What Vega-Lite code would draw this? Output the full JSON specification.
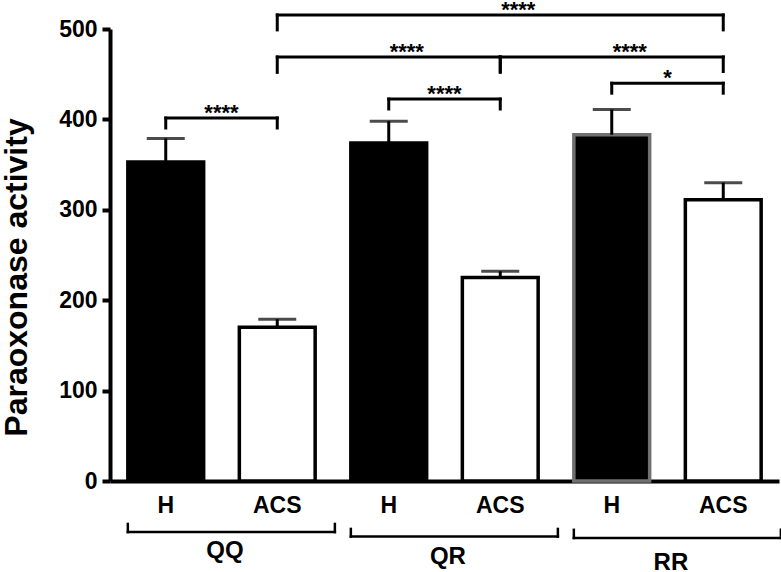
{
  "$schema": "https://vega.github.io/schema/vega-lite/v6.json",
  "width": 669,
  "height": 452,
  "autosize": "none",
  "padding": {"left": 110, "top": 29, "right": 2, "bottom": 91},
  "background": "white",
  "config": {
    "view": {"stroke": null},
    "font": "Liberation Sans",
    "text": {"font": "Liberation Sans", "fontWeight": "bold", "color": "black"}
  },
  "resolve": {"axis": {"x": "independent", "y": "independent"}},
  "datasets": {
    "bars": [
      {"group": "QQ", "type": "H", "bar": "QQ H", "value": 353, "upper": 379},
      {"group": "QQ", "type": "ACS", "bar": "QQ ACS", "value": 170, "upper": 179},
      {"group": "QR", "type": "H", "bar": "QR H", "value": 374, "upper": 398},
      {"group": "QR", "type": "ACS", "bar": "QR ACS", "value": 225, "upper": 232},
      {"group": "RR", "type": "H", "bar": "RR H", "value": 383, "upper": 411},
      {"group": "RR", "type": "ACS", "bar": "RR ACS", "value": 311, "upper": 330}
    ],
    "sig": [
      {"from": "QQ H", "to": "QQ ACS", "mid": "QQ ACS", "span": 1, "y": 401.5, "y0": 390.5, "label": "****"},
      {"from": "QR H", "to": "QR ACS", "mid": "QR ACS", "span": 1, "y": 422.5, "y0": 411.5, "label": "****"},
      {"from": "RR H", "to": "RR ACS", "mid": "RR ACS", "span": 1, "y": 440, "y0": 429, "label": "*"},
      {"from": "QQ ACS", "to": "QR ACS", "mid": "QR H", "span": 2, "y": 469, "y0": 452, "label": "****"},
      {"from": "QR ACS", "to": "RR ACS", "mid": "RR H", "span": 2, "y": 469, "y0": 453, "label": "****"},
      {"from": "QQ ACS", "to": "RR ACS", "mid": "QR ACS", "span": 4, "y": 515.5, "y0": 499, "label": "****"}
    ],
    "groups": [
      {"group": "QQ", "first": "QQ H", "last": "QQ ACS", "y": -56.5, "y0": -47.5, "ly": -85},
      {"group": "QR", "first": "QR H", "last": "QR ACS", "y": -61.5, "y0": -53, "ly": -92},
      {"group": "RR", "first": "RR H", "last": "RR ACS", "y": -63, "y0": -54, "ly": -98}
    ]
  },
  "layer": [
    {
      "data": {"name": "bars"},
      "mark": {"type": "bar", "strokeWidth": 3.5},
      "encoding": {
        "x": {
          "field": "bar", "type": "nominal",
          "scale": {"domain": ["QQ H", "QQ ACS", "QR H", "QR ACS", "RR H", "RR ACS"], "paddingInner": 0.32, "paddingOuter": 0.16},
          "axis": {
            "title": null, "labelAngle": 0, "ticks": false, "tickSize": 0,
            "domainColor": "black", "domainWidth": 4,
            "labelFont": "Liberation Sans", "labelFontWeight": "bold", "labelFontSize": 23, "labelColor": "black",
            "labelPadding": 13, "labelExpr": "split(datum.label, ' ')[1]"
          }
        },
        "y": {
          "field": "value", "type": "quantitative",
          "scale": {"domain": [0, 500], "nice": false},
          "axis": {
            "values": [0, 100, 200, 300, 400, 500], "grid": false,
            "domainColor": "black", "domainWidth": 4,
            "tickColor": "black", "tickWidth": 4, "tickSize": 8,
            "labelFont": "Liberation Sans", "labelFontWeight": "bold", "labelFontSize": 23, "labelColor": "black",
            "labelPadding": 5,
            "title": "Paraoxonase activity",
            "titleFont": "Liberation Sans", "titleFontWeight": "bold", "titleFontSize": 32, "titleColor": "black",
            "titleAngle": -90, "titleAlign": "center", "titleBaseline": "alphabetic",
            "titleX": -84, "titleY": 248
          }
        },
        "fill": {"field": "type", "type": "nominal", "scale": {"domain": ["H", "ACS"], "range": ["black", "white"]}, "legend": null},
        "stroke": {"field": "bar", "type": "nominal", "scale": {"domain": ["QQ H", "QQ ACS", "QR H", "QR ACS", "RR H", "RR ACS"], "range": ["black", "black", "black", "black", "#707070", "black"]}, "legend": null}
      }
    },
    {
      "data": {"name": "bars"},
      "mark": {"type": "rule", "color": "black", "strokeWidth": 3},
      "encoding": {
        "x": {"field": "bar", "type": "nominal", "axis": null},
        "y": {"field": "value", "type": "quantitative", "axis": null},
        "y2": {"field": "upper"}
      }
    },
    {
      "data": {"name": "bars"},
      "mark": {"type": "tick", "color": "black", "thickness": 3, "size": 38},
      "encoding": {
        "x": {"field": "bar", "type": "nominal", "axis": null},
        "y": {"field": "upper", "type": "quantitative", "axis": null}
      }
    },
    {
      "data": {"name": "sig"},
      "mark": {"type": "rule", "color": "black", "strokeWidth": 3, "strokeCap": "square"},
      "encoding": {
        "x": {"field": "from", "type": "nominal", "axis": null},
        "x2": {"field": "to"},
        "y": {"field": "y", "type": "quantitative", "axis": null}
      }
    },
    {
      "data": {"name": "sig"},
      "mark": {"type": "rule", "color": "black", "strokeWidth": 3, "strokeCap": "square"},
      "encoding": {
        "x": {"field": "from", "type": "nominal", "axis": null},
        "y": {"field": "y", "type": "quantitative", "axis": null},
        "y2": {"field": "y0"}
      }
    },
    {
      "data": {"name": "sig"},
      "mark": {"type": "rule", "color": "black", "strokeWidth": 3, "strokeCap": "square"},
      "encoding": {
        "x": {"field": "to", "type": "nominal", "axis": null},
        "y": {"field": "y", "type": "quantitative", "axis": null},
        "y2": {"field": "y0"}
      }
    },
    {
      "data": {"name": "sig"},
      "transform": [{"filter": "datum.span == 1"}],
      "mark": {"type": "text", "fontSize": 22, "fontWeight": "bold", "baseline": "alphabetic", "dy": 2, "color": "black"},
      "encoding": {
        "x": {"field": "to", "type": "nominal", "bandPosition": -0.236, "axis": null},
        "y": {"field": "y", "type": "quantitative", "axis": null},
        "text": {"field": "label"}
      }
    },
    {
      "data": {"name": "sig"},
      "transform": [{"filter": "datum.span > 1"}],
      "mark": {"type": "text", "fontSize": 22, "fontWeight": "bold", "baseline": "alphabetic", "dy": 2, "dx": 18, "color": "black"},
      "encoding": {
        "x": {"field": "mid", "type": "nominal", "axis": null},
        "y": {"field": "y", "type": "quantitative", "axis": null},
        "text": {"field": "label"}
      }
    },
    {
      "data": {"name": "groups"},
      "mark": {"type": "rule", "color": "black", "strokeWidth": 2.5, "strokeCap": "square"},
      "encoding": {
        "x": {"field": "first", "type": "nominal", "bandPosition": 0, "axis": null},
        "x2": {"field": "last", "bandPosition": 1.26},
        "y": {"field": "y", "type": "quantitative", "axis": null}
      }
    },
    {
      "data": {"name": "groups"},
      "mark": {"type": "rule", "color": "black", "strokeWidth": 2.5, "strokeCap": "square"},
      "encoding": {
        "x": {"field": "first", "type": "nominal", "bandPosition": 0, "axis": null},
        "y": {"field": "y", "type": "quantitative", "axis": null},
        "y2": {"field": "y0"}
      }
    },
    {
      "data": {"name": "groups"},
      "mark": {"type": "rule", "color": "black", "strokeWidth": 2.5, "strokeCap": "square"},
      "encoding": {
        "x": {"field": "last", "type": "nominal", "bandPosition": 1.26, "axis": null},
        "y": {"field": "y", "type": "quantitative", "axis": null},
        "y2": {"field": "y0"}
      }
    },
    {
      "data": {"name": "groups"},
      "mark": {"type": "text", "fontSize": 24, "fontWeight": "bold", "baseline": "alphabetic", "color": "black"},
      "encoding": {
        "x": {"field": "last", "type": "nominal", "bandPosition": -0.19, "axis": null},
        "y": {"field": "ly", "type": "quantitative", "axis": null},
        "text": {"field": "group"}
      }
    }
  ]
}
